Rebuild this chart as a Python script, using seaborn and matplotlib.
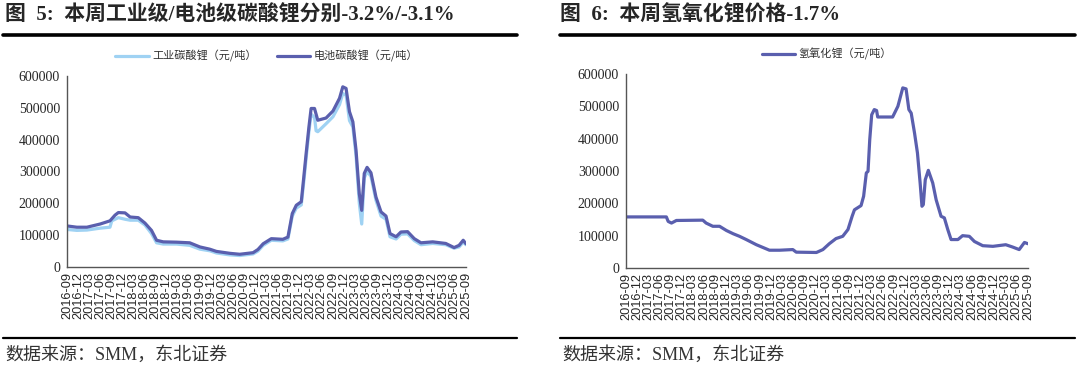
import pandas as pd
import numpy as np
import matplotlib
matplotlib.use("Agg")
import matplotlib.pyplot as plt
import matplotlib.dates as mdates
import seaborn as sns

sns.set_style("white")
plt.rcParams['font.family'] = ['Liberation Serif', 'Noto Sans CJK SC', 'DejaVu Sans']

# battery grade lithium carbonate
bat_dates = ["2016-09-01", "2016-11-21", "2017-02-12", "2017-06-01", "2017-08-21", "2017-10-02",
             "2017-10-29", "2017-12-23", "2018-02-03", "2018-04-11", "2018-06-05", "2018-07-29",
             "2018-09-09", "2018-11-03", "2019-02-21", "2019-06-09", "2019-09-01", "2019-11-21",
             "2020-01-15", "2020-05-04", "2020-07-25", "2020-11-12", "2020-12-22", "2021-02-03",
             "2021-04-11", "2021-07-15", "2021-08-26", "2021-10-01", "2021-11-03", "2021-12-14",
             "2022-01-03", "2022-01-24", "2022-02-15", "2022-03-05", "2022-04-02", "2022-04-29",
             "2022-07-06", "2022-09-01", "2022-10-25", "2022-11-21", "2022-12-18", "2023-01-15",
             "2023-02-12", "2023-03-10", "2023-04-06", "2023-04-26", "2023-05-17", "2023-06-09",
             "2023-07-11", "2023-08-21", "2023-10-02", "2023-11-12", "2023-12-15", "2024-02-03",
             "2024-03-14", "2024-05-08", "2024-07-02", "2024-08-26", "2024-12-01", "2025-03-18",
             "2025-05-26", "2025-07-06", "2025-08-09", "2025-09-01"]
bat_vals = [129000, 125000, 125000, 135000, 145000, 163000,
            171000, 170000, 157000, 155000, 138000, 115000,
            84000, 79000, 78000, 76000, 63000, 56000,
            49000, 43000, 40000, 45000, 55000, 73000,
            89000, 87000, 94000, 168000, 194000, 205000,
            280000, 360000, 440000, 498000, 498000, 461000,
            468000, 490000, 530000, 566000, 561000, 488000,
            456000, 367000, 230000, 178000, 294000, 313000,
            296000, 220000, 173000, 160000, 105000, 95000,
            110000, 111000, 89000, 76000, 79000, 74000,
            61000, 68000, 84000, 73000]

# industrial grade lithium carbonate
ind_dates = ["2016-09-01", "2016-11-21", "2017-02-12", "2017-06-01", "2017-08-21", "2017-09-05",
             "2017-10-29", "2017-12-23", "2018-02-03", "2018-04-11", "2018-06-05", "2018-07-29",
             "2018-09-09", "2018-11-03", "2019-02-21", "2019-06-09", "2019-09-01", "2019-11-21",
             "2020-01-15", "2020-05-04", "2020-07-25", "2020-11-12", "2020-12-22", "2021-02-03",
             "2021-04-11", "2021-07-15", "2021-08-26", "2021-10-01", "2021-11-03", "2021-12-14",
             "2022-01-03", "2022-01-24", "2022-02-15", "2022-03-05", "2022-04-02", "2022-04-15",
             "2022-04-29", "2022-07-06", "2022-09-01", "2022-10-25", "2022-11-21", "2022-12-18",
             "2023-01-15", "2023-02-12", "2023-03-10", "2023-04-06", "2023-04-26", "2023-05-17",
             "2023-06-09", "2023-07-11", "2023-08-21", "2023-10-02", "2023-11-12", "2023-12-15",
             "2024-02-03", "2024-03-14", "2024-05-08", "2024-07-02", "2024-08-26", "2024-12-01",
             "2025-03-18", "2025-05-26", "2025-07-06", "2025-08-09", "2025-09-01"]
ind_vals = [118000, 115000, 116000, 122000, 125000, 145000,
            155000, 150000, 147000, 147000, 132000, 105000,
            76000, 72000, 72000, 68000, 56000, 51000,
            44000, 38000, 36000, 41000, 50000, 68000,
            84000, 82000, 88000, 160000, 185000, 195000,
            265000, 345000, 425000, 480000, 470000, 428000,
            425000, 450000, 472000, 510000, 545000, 540000,
            460000, 440000, 350000, 200000, 135000, 280000,
            300000, 285000, 210000, 160000, 150000, 95000,
            88000, 103000, 104000, 83000, 70000, 74000,
            70000, 59000, 63000, 78000, 70000]

# lithium hydroxide
hyd_dates = ["2016-09-01", "2017-07-28", "2017-08-12", "2017-09-08", "2017-10-18", "2018-05-22",
             "2018-06-18", "2018-08-12", "2018-10-06", "2018-12-01", "2019-01-25", "2019-03-18",
             "2019-05-12", "2019-08-03", "2019-11-18", "2020-02-09", "2020-05-27", "2020-06-24",
             "2020-12-06", "2021-01-28", "2021-03-21", "2021-05-15", "2021-07-09", "2021-08-21",
             "2021-09-24", "2021-10-13", "2021-12-06", "2021-12-27", "2022-01-18", "2022-02-01",
             "2022-02-15", "2022-03-03", "2022-03-24", "2022-04-12", "2022-04-21", "2022-08-21",
             "2022-10-03", "2022-11-12", "2022-12-09", "2023-01-01", "2023-01-20", "2023-02-16",
             "2023-03-12", "2023-04-03", "2023-04-18", "2023-04-29", "2023-05-15", "2023-06-09",
             "2023-07-15", "2023-08-12", "2023-09-21", "2023-10-18", "2023-11-15", "2023-12-12",
             "2024-02-06", "2024-03-15", "2024-05-09", "2024-06-20", "2024-08-27", "2024-11-18",
             "2025-03-03", "2025-04-27", "2025-06-21", "2025-08-03", "2025-09-01"]
hyd_vals = [158000, 158000, 144000, 139000, 147000, 148000,
            139000, 129000, 129000, 116000, 106000, 98000,
            88000, 72000, 55000, 55000, 57000, 49000,
            48000, 57000, 75000, 91000, 98000, 119000,
            160000, 180000, 193000, 222000, 294000, 299000,
            397000, 474000, 490000, 487000, 467000, 467000,
            500000, 557000, 554000, 490000, 479000, 418000,
            356000, 263000, 191000, 196000, 273000, 302000,
            263000, 211000, 160000, 155000, 119000, 88000,
            88000, 100000, 98000, 82000, 69000, 67000,
            72000, 65000, 57000, 79000, 75000]

ind_label = "工业碳酸锂（元/吨）"
bat_label = "电池碳酸锂（元/吨）"
hyd_label = "氢氧化锂（元/吨）"

c_dark = "#5a5fae"
c_light = "#9fd2f3"

df_ind = pd.DataFrame({"date": pd.to_datetime(ind_dates), "price": ind_vals})
df_bat = pd.DataFrame({"date": pd.to_datetime(bat_dates), "price": bat_vals})
df_hyd = pd.DataFrame({"date": pd.to_datetime(hyd_dates), "price": hyd_vals})

fig = plt.figure(figsize=(10.8, 3.67), dpi=100)
fig.patch.set_facecolor("white")
W, H = 1080.0, 367.0

ax1 = fig.add_axes([67 / W, 1 - 267 / H, 399 / W, 191 / H])
ax2 = fig.add_axes([626 / W, 1 - 268 / H, 402 / W, 194 / H])

sns.lineplot(data=df_ind, x="date", y="price", ax=ax1, color=c_light, lw=2.3, label=ind_label)
sns.lineplot(data=df_bat, x="date", y="price", ax=ax1, color=c_dark, lw=2.3, label=bat_label)
sns.lineplot(data=df_hyd, x="date", y="price", ax=ax2, color=c_dark, lw=2.3, label=hyd_label)

ticks = pd.date_range("2016-09-01", "2025-09-01", freq="3MS")
for ax in (ax1, ax2):
    ax.set_xlim(pd.Timestamp("2016-09-01"), pd.Timestamp("2025-09-01"))
    ax.set_ylim(0, 600000)
    ax.set_yticks(np.arange(0, 600001, 100000))
    ax.set_xticks(ticks)
    ax.xaxis.set_major_formatter(mdates.DateFormatter("%Y-%m"))
    ax.set_xlabel("")
    ax.set_ylabel("")
    for s in ("top", "right"):
        ax.spines[s].set_visible(False)
    for s in ("left", "bottom"):
        ax.spines[s].set_color("#555555")
        ax.spines[s].set_linewidth(1.0)
    ax.tick_params(axis="x", direction="inout", length=5, width=0.8, color="#555555",
                   labelrotation=90, labelsize=9.2, pad=1)
    ax.tick_params(axis="y", direction="out", length=3, width=0.8, color="#555555",
                   labelsize=10, pad=2)
    for lab in ax.get_xticklabels():
        lab.set_family(["Liberation Sans", "DejaVu Sans"])
    for lab in ax.get_yticklabels():
        lab.set_family(["Liberation Serif", "DejaVu Serif"])
    leg = ax.legend(loc="lower center", bbox_to_anchor=(0.5, 1.02), ncol=2, frameon=False,
                    handlelength=3.0, columnspacing=1.8, handletextpad=0.3,
                    prop={"family": ["Noto Sans CJK SC"], "size": 8})
    for t in leg.get_texts():
        t.set_color("#333333")

# titles
fig.text(5 / W, 1 - 15 / H, "图  5:  本周工业级/电池级碳酸锂分别-3.2%/-3.1%", fontsize=15,
         fontweight="bold", va="center", ha="left",
         family=["Liberation Serif", "Noto Sans CJK SC"])
fig.text(560 / W, 1 - 15 / H, "图  6:  本周氢氧化锂价格-1.7%", fontsize=15,
         fontweight="bold", va="center", ha="left",
         family=["Liberation Serif", "Noto Sans CJK SC"])

# rules
for x0, x1 in ((3, 517), (560, 1075)):
    fig.add_artist(plt.Line2D([x0 / W, x1 / W], [1 - 35 / H, 1 - 35 / H], color="black", lw=2.6))
    fig.add_artist(plt.Line2D([x0 / W, x1 / W], [1 - 338 / H, 1 - 338 / H], color="black", lw=1.6))

# source notes
for x0 in (5, 562):
    fig.text(x0 / W, 1 - 355 / H, "数据来源：SMM，东北证券", fontsize=13, va="center", ha="left",
             color="#333333", family=["Liberation Serif", "Noto Sans CJK SC"])

fig.savefig("out.png", dpi=100, facecolor="white")
